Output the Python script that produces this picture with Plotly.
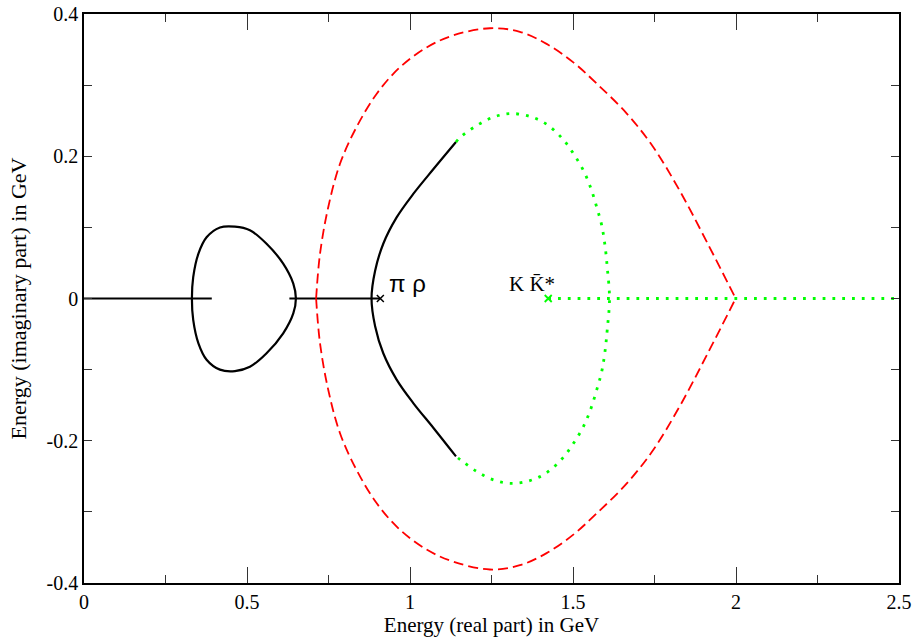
import plotly.graph_objects as go

# ---- data ----
line1_x = [0.0, 0.392]
line1_y = [0.0, 0.0]

loop_x = [0.331, 0.335, 0.351, 0.376, 0.417, 0.463, 0.509, 0.560, 0.611, 0.642, 0.650,
          0.642, 0.611, 0.560, 0.509, 0.463, 0.417, 0.376, 0.351, 0.335, 0.331]
loop_y = [0.0, 0.030, 0.063, 0.086, 0.0998, 0.101, 0.096, 0.077, 0.049, 0.021, 0.0,
          -0.021, -0.049, -0.077, -0.096, -0.102, -0.100, -0.086, -0.063, -0.030, 0.0]

line2_x = [0.630, 0.909]
line2_y = [0.0, 0.0]

black_x = [1.141, 1.072, 1.010, 0.959, 0.918, 0.893, 0.882, 0.893, 0.918, 0.959, 1.010, 1.072, 1.141]
black_y = [0.220, 0.182, 0.147, 0.114, 0.077, 0.039, 0.0, -0.039, -0.077, -0.114, -0.147, -0.182, -0.222]

red_up_x = [0.712, 0.724, 0.749, 0.785, 0.836, 0.898, 0.969, 1.051, 1.133, 1.245, 1.337, 1.419,
            1.501, 1.573, 1.665, 1.746, 1.828, 1.910, 1.999]
red_up_y = [0.0, 0.063, 0.128, 0.189, 0.241, 0.288, 0.325, 0.353, 0.370, 0.380, 0.375, 0.358,
            0.332, 0.302, 0.260, 0.213, 0.151, 0.080, 0.0]
red_lo_x = [0.712, 0.724, 0.749, 0.785, 0.836, 0.898, 0.969, 1.051, 1.133, 1.245, 1.337, 1.419,
            1.501, 1.573, 1.665, 1.746, 1.828, 1.910, 1.999]
red_lo_y = [0.0, -0.063, -0.128, -0.189, -0.241, -0.288, -0.325, -0.353, -0.370, -0.381, -0.375, -0.358,
            -0.332, -0.302, -0.260, -0.213, -0.151, -0.080, 0.0]

green_x = [1.141, 1.155, 1.204, 1.256, 1.309, 1.368, 1.419, 1.465, 1.501, 1.532, 1.554, 1.573, 1.588,
           1.598, 1.605, 1.612,
           1.605, 1.598, 1.588, 1.573, 1.554, 1.532, 1.501, 1.465, 1.419, 1.368, 1.309, 1.256, 1.204,
           1.155, 1.141]
green_y = [0.220, 0.227, 0.243, 0.255, 0.260, 0.256, 0.245, 0.226, 0.204, 0.180, 0.156, 0.128, 0.103,
           0.075, 0.044, 0.0,
           -0.044, -0.075, -0.103, -0.128, -0.156, -0.180, -0.204, -0.226, -0.245, -0.256, -0.260, -0.255, -0.243,
           -0.227, -0.222]

green_line_x = [1.424, 2.5]
green_line_y = [0.0, 0.0]

thr_pirho = (0.909, 0.0)
thr_kk = (1.424, 0.0)

x_ticks = [0, 0.5, 1, 1.5, 2, 2.5]
x_ticktext = ["0", "0.5", "1", "1.5", "2", "2.5"]
y_ticks = [-0.4, -0.2, 0, 0.2, 0.4]
y_ticktext = ["-0.4", "-0.2", "0", "0.2", "0.4"]

# ---- figure ----
SERIF = "Liberation Serif, Times New Roman, serif"
fig = go.Figure()

blk = dict(color="black", width=2.2)
red = dict(color="#ff0000", width=1.8, dash="10px,5px", shape="spline")
grn = dict(color="#00ff00", width=2.8, dash="2.8px,7px")
fig.add_trace(go.Scatter(x=line1_x, y=line1_y, mode="lines", line=blk))
fig.add_trace(go.Scatter(x=loop_x, y=loop_y, mode="lines", line=dict(shape="spline", **blk)))
fig.add_trace(go.Scatter(x=line2_x, y=line2_y, mode="lines", line=blk))
fig.add_trace(go.Scatter(x=black_x, y=black_y, mode="lines", line=dict(shape="spline", **blk)))
fig.add_trace(go.Scatter(x=red_up_x, y=red_up_y, mode="lines", line=red))
fig.add_trace(go.Scatter(x=red_lo_x, y=red_lo_y, mode="lines", line=red))
fig.add_trace(go.Scatter(x=green_x, y=green_y, mode="lines", line=dict(shape="spline", **grn)))
fig.add_trace(go.Scatter(x=green_line_x, y=green_line_y, mode="lines", line=grn))
fig.add_trace(go.Scatter(x=[thr_pirho[0]], y=[thr_pirho[1]], mode="markers",
                         marker=dict(symbol="x-thin", size=7, line=dict(color="black", width=1.5))))
fig.add_trace(go.Scatter(x=[thr_kk[0]], y=[thr_kk[1]], mode="markers",
                         marker=dict(symbol="x-thin", size=7, line=dict(color="#00ff00", width=1.8))))

fig.add_annotation(x=0.928, y=0.021, text="π ρ", showarrow=False, xanchor="left", yanchor="middle",
                   font=dict(family="Liberation Sans, Arial, sans-serif", size=24, color="black"))
fig.add_annotation(x=1.296, y=0.021, text="K K\u0304*", showarrow=False, xanchor="left", yanchor="middle",
                   font=dict(family=SERIF, size=21, color="black"))

fig.update_layout(
    width=914, height=637,
    margin=dict(l=84, r=15, t=14, b=54),
    paper_bgcolor="white", plot_bgcolor="white",
    showlegend=False,
    font=dict(family=SERIF, size=20, color="black"),
)
fig.update_xaxes(
    range=[0, 2.5], tickvals=x_ticks, ticktext=x_ticktext, automargin=False,
    showgrid=False, zeroline=False,
    showline=True, linecolor="black", linewidth=1.5, mirror="ticks",
    ticks="inside", ticklen=16, tickcolor="#333", tickwidth=1.3,
    minor=dict(dtick=0.25, ticks="inside", ticklen=8, tickcolor="#333", tickwidth=1.3, showgrid=False),
    title=dict(text="Energy (real part) in GeV", font=dict(size=21), standoff=6),
    tickfont=dict(size=20),
)
fig.update_yaxes(
    range=[-0.4, 0.4], tickvals=y_ticks, ticktext=y_ticktext, automargin=False,
    showgrid=False, zeroline=False,
    showline=True, linecolor="black", linewidth=1.5, mirror="ticks",
    ticks="inside", ticklen=8, tickcolor="#333", tickwidth=1.3,
    minor=dict(dtick=0.1, ticks="inside", ticklen=8, tickcolor="#333", tickwidth=1.3, showgrid=False),
    title=dict(text="Energy (imaginary part) in GeV", font=dict(size=22), standoff=14),
    tickfont=dict(size=20),
)

fig.write_html("out.html")
